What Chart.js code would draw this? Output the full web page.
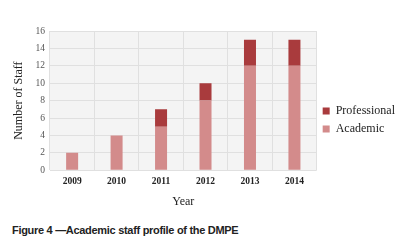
<!DOCTYPE html>
<html>
<head>
<meta charset="utf-8">
<script src="https://cdn.jsdelivr.net/npm/chart.js@4"></script>
<style>
  html, body { margin: 0; padding: 0; background: #fff; }
  #wrap { position: relative; width: 405px; height: 252px; }
  #chart { position: absolute; left: 0; top: 0; }
  #caption {
    position: absolute; left: 12px; top: 224px;
    font: bold 11px "Liberation Sans", Arial, sans-serif; color: #222;
    letter-spacing: -0.3px;
  }
</style>
</head>
<body>
<div id="wrap">
  <canvas id="chart" width="405" height="209"></canvas>
  <div id="caption">Figure 4 —Academic staff profile of the DMPE</div>
</div>
<script>
const years = ['2009', '2010', '2011', '2012', '2013', '2014'];
const academic = [2, 4, 5, 8, 12, 12];
const professional = [0, 0, 2, 2, 3, 3];

const academicColor = '#d38b8b';
const professionalColor = '#a93b3d';
const serif = '"Liberation Serif", "Times New Roman", serif';

// fond gris clair de la zone du graphique
const plotBackground = {
  id: 'plotBackground',
  beforeDraw(chart) {
    const { ctx, chartArea } = chart;
    ctx.save();
    ctx.fillStyle = '#f4f4f4';
    ctx.fillRect(chartArea.left, chartArea.top, chartArea.right - chartArea.left, chartArea.bottom - chartArea.top);
    ctx.restore();
  }
};

new Chart(document.getElementById('chart'), {
  type: 'bar',
  data: {
    labels: years,
    datasets: [
      {
        label: 'Academic',
        data: academic,
        backgroundColor: academicColor,
        barPercentage: 0.27,
        categoryPercentage: 1
      },
      {
        label: 'Professional',
        data: professional,
        backgroundColor: professionalColor,
        barPercentage: 0.27,
        categoryPercentage: 1
      }
    ]
  },
  options: {
    responsive: false,
    animation: false,
    layout: { padding: { top: 31, left: 8, right: 0, bottom: 0 } },
    plugins: {
      tooltip: { enabled: false },
      legend: {
        position: 'right',
        reverse: true,
        labels: {
          boxWidth: 7,
          boxHeight: 7,
          padding: 6,
          color: '#222',
          font: { family: serif, size: 12 }
        }
      }
    },
    scales: {
      x: {
        stacked: true,
        grid: { color: '#e0e0e0', offset: true, drawTicks: false },
        border: { display: false },
        ticks: { color: '#222', padding: 6, font: { family: serif, size: 9.5, weight: 'bold' } },
        title: { display: true, text: 'Year', color: '#222', padding: { top: 1, bottom: 0 }, font: { family: serif, size: 12 } }
      },
      y: {
        stacked: true,
        min: 0,
        max: 16,
        grid: { color: '#e0e0e0', drawTicks: false },
        border: { display: false },
        ticks: { stepSize: 2, color: '#555', padding: 5, font: { family: serif, size: 9.5 } },
        title: { display: true, text: 'Number of Staff', color: '#222', padding: { bottom: 4 }, font: { family: serif, size: 12 } }
      }
    }
  },
  plugins: [plotBackground]
});
</script>
</body>
</html>
